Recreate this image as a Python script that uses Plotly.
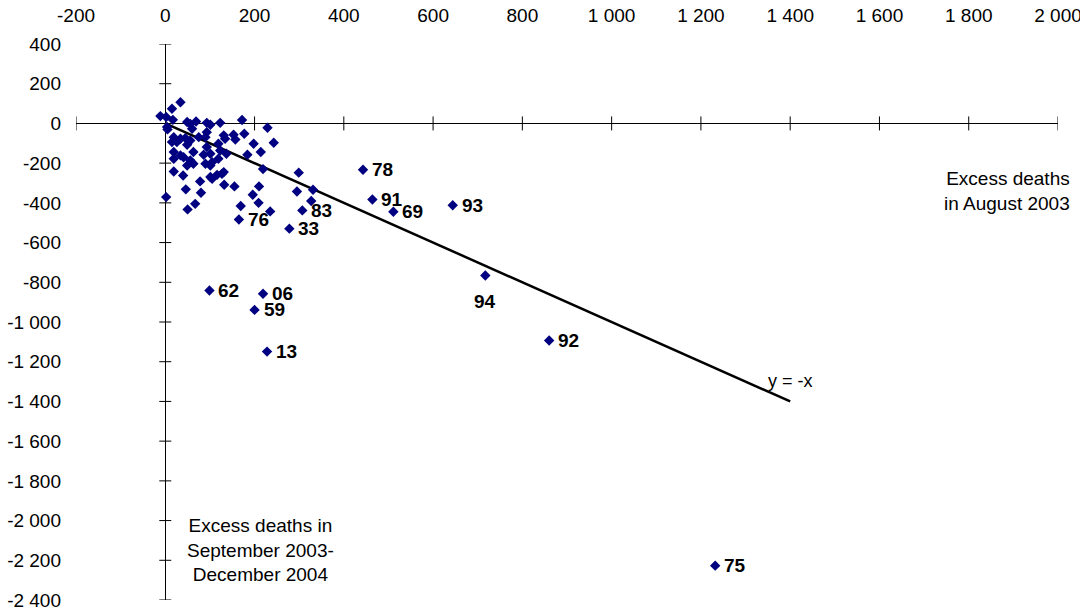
import plotly.graph_objects as go

# unlabelled departments: excess deaths in Aug 2003 vs Sep 2003-Dec 2004
cluster_x = [34, 15, -11, 2, 17, 4, 5,
             49, 56, 69, 93, 101, 123, 172, 229, 243,
             60, 19, 34, 45, 56, 75, 93, 90, 131, 134, 153, 157, 177, 198, 214,
             15, 26, 49, 93, 119, 123, 137, 184, 19, 34, 63, 86, 101, 105, 119,
             19, 41, 56, 63, 49, 90, 101, 131, 127, 116, 101, 105, 19, 40, 78,
             46, 80, 132, 155, 210, 196, 209, 169, 67, 50, 2, 235, 299, 295,
             219, 331, 327]
cluster_y = [107, 74, 37, 32, 18, -18, -30,
             7, -2, 10, 3, -7, 3, 17, -22, -97,
             -27, -69, -77, -74, -86, -69, -44, -69, -60, -77, -57, -81, -52, -102, -144,
             -94, -94, -107, -119, -102, -136, -153, -158, -144, -161, -144, -158, -153, -195, -178,
             -178, -170, -186, -203, -212, -203, -212, -245, -254, -259, -270, -279, -242, -262, -292,
             -332, -349, -309, -317, -317, -359, -400, -416, -405, -433, -371, -443, -248, -343,
             -230, -334, -391]

# labelled departments
dept_codes = ["78", "91", "69", "93", "83", "76", "33", "94", "92", "62", "06", "59", "13", "75"]
dept_x = [443, 464, 511, 644, 307, 165, 278, 717, 860, 99, 219, 200, 228, 1232]
dept_y = [-233, -383, -445, -412, -438, -484, -530, -766, -1093, -841, -858, -939, -1149, -2227]

# reference line y = -x
ref_x = [0, 1400]
ref_y = [0, -1400]

x_ticks = [-200, 0, 200, 400, 600, 800, 1000, 1200, 1400, 1600, 1800, 2000]
x_tick_labels = ["-200", "0", "200", "400", "600", "800", "1 000", "1 200",
                 "1 400", "1 600", "1 800", "2 000"]
y_ticks = [400, 200, 0, -200, -400, -600, -800, -1000, -1200, -1400, -1600,
           -1800, -2000, -2200, -2400]
y_tick_labels = ["400", "200", "0", "-200", "-400", "-600", "-800", "-1 000",
                 "-1 200", "-1 400", "-1 600", "-1 800", "-2 000", "-2 200", "-2 400"]

NAVY = "#000080"
FONT = "Liberation Sans, Arial, sans-serif"

fig = go.Figure()

fig.add_trace(go.Scatter(
    x=ref_x, y=ref_y, mode="lines",
    line={"color": "black", "width": 2.5},
    hoverinfo="skip",
))

fig.add_trace(go.Scatter(
    x=cluster_x + dept_x, y=cluster_y + dept_y, mode="markers",
    marker={"symbol": "diamond", "size": 8, "color": NAVY},
))

# tick marks crossing the axes at the origin
shapes = []
for tv in x_ticks:
    if tv == 0:
        continue
    shapes.append(dict(type="line", xref="x", yref="y", x0=tv, x1=tv,
                       ysizemode="pixel", yanchor=0, y0=-7, y1=7,
                       line={"color": "black", "width": 1}))
for tv in y_ticks:
    if tv == 0:
        continue
    shapes.append(dict(type="line", xref="x", yref="y", y0=tv, y1=tv,
                       xsizemode="pixel", xanchor=0, x0=-6, x1=6,
                       line={"color": "black", "width": 1}))

annotations = []
for code, dx, dy in zip(dept_codes, dept_x, dept_y):
    below = code == "94"
    annotations.append(dict(
        x=dx, y=dy, xref="x", yref="y", text=code, showarrow=False,
        xanchor="center" if below else "left", yanchor="middle",
        xshift=0 if below else 7, yshift=-26 if below else 0,
        font={"family": FONT, "size": 19, "color": "black", "weight": "bold"},
    ))

annotations += [
    dict(x=1400, y=-1295, xref="x", yref="y", text="y = -x", showarrow=False,
         font={"family": FONT, "size": 18, "color": "black"}),
    dict(x=1.014, y=-338, xref="paper", yref="y", xanchor="right",
         text="Excess deaths<br>in August 2003", align="right", showarrow=False,
         font={"family": FONT, "size": 19, "color": "black"}),
    dict(x=213, y=-2146, xref="x", yref="y",
         text="Excess deaths in<br>September 2003-<br>December 2004",
         align="center", showarrow=False,
         font={"family": FONT, "size": 19, "color": "black"}),
]

fig.update_layout(
    width=1080, height=613,
    margin={"l": 76, "r": 22, "t": 44, "b": 13},
    plot_bgcolor="white", paper_bgcolor="white",
    showlegend=False,
    font={"family": FONT, "size": 19, "color": "black"},
    shapes=shapes,
    annotations=annotations,
)
fig.update_xaxes(
    range=[-200, 2000], side="top", automargin=False,
    tickvals=x_ticks, ticktext=x_tick_labels, ticklabeloverflow="allow",
    showgrid=False, showline=False, ticks="",
    zeroline=True, zerolinecolor="black", zerolinewidth=1,
    ticklabelstandoff=17,
)
fig.update_yaxes(
    range=[-2400, 400], automargin=False,
    tickvals=y_ticks, ticktext=y_tick_labels, ticklabeloverflow="allow",
    showgrid=False, showline=False, ticks="",
    zeroline=True, zerolinecolor="black", zerolinewidth=1,
    ticklabelstandoff=14,
)

# drop the default 8px page margin so the figure fills the window
fig.write_html(
    "out.html",
    config={"displayModeBar": False},
    post_script="document.body.style.margin = '0';",
)
